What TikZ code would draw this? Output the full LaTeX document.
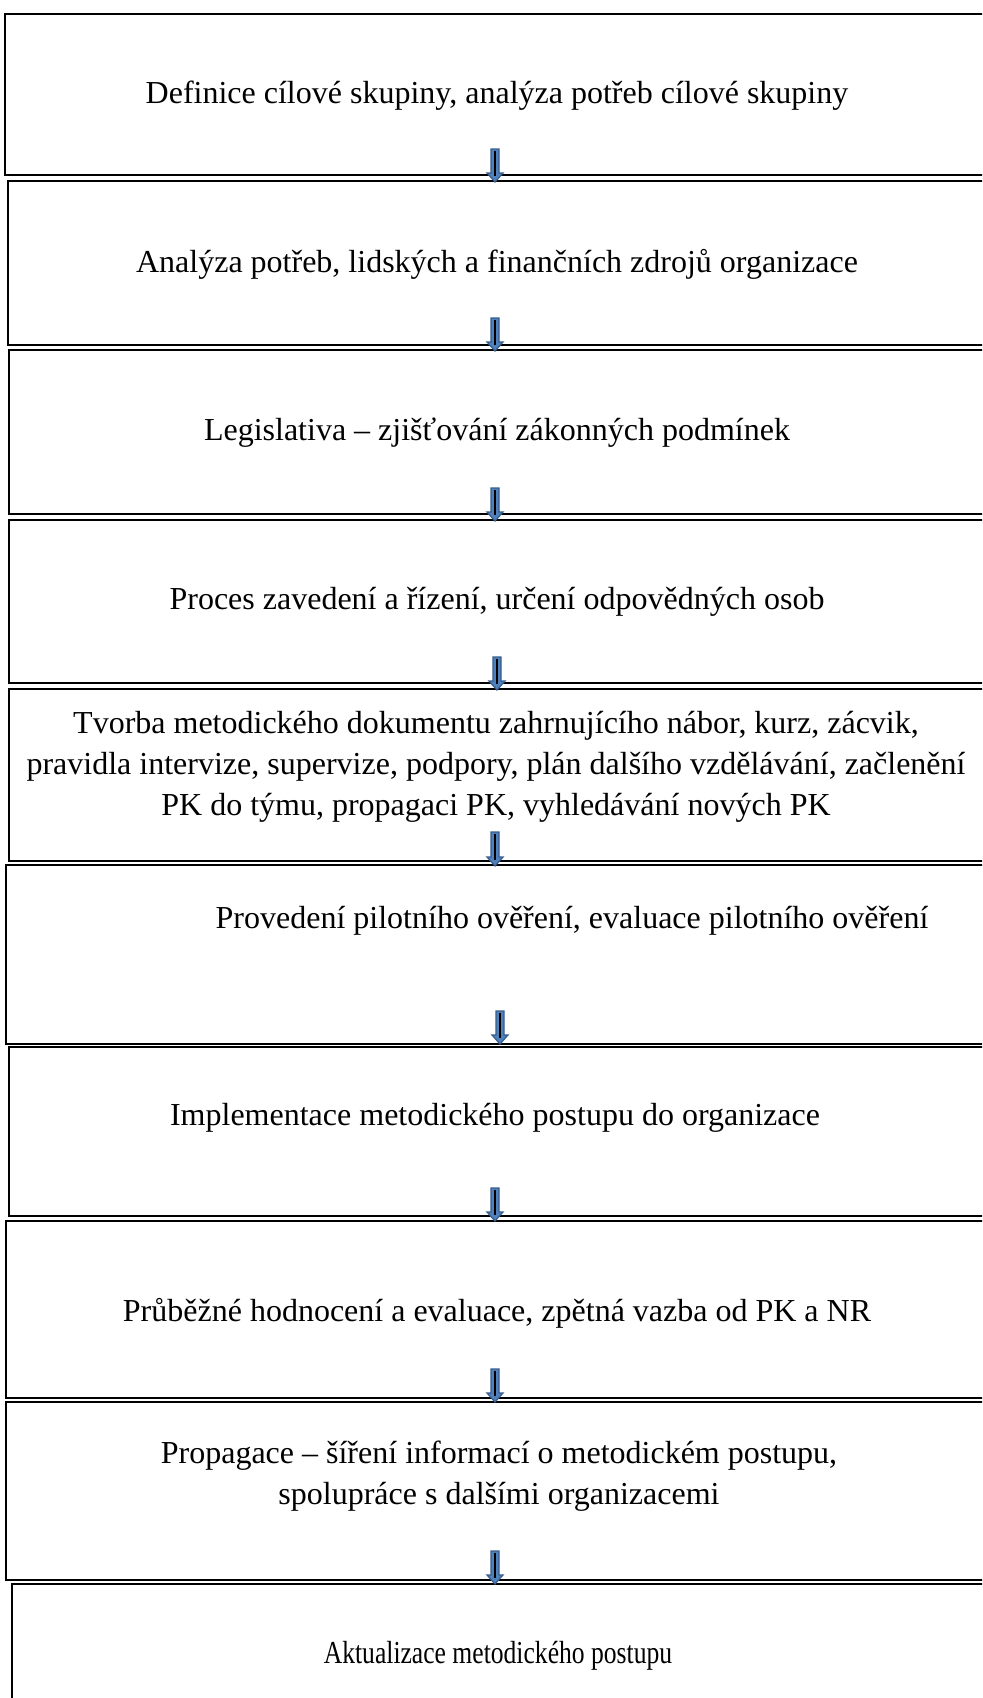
\documentclass[tikz,border=0pt]{standalone}
\usepackage{fontspec}
\setmainfont{Liberation Serif}
\usetikzlibrary{calc}
\definecolor{arrfill}{HTML}{4F81BD}
\definecolor{arredge}{HTML}{385D8A}
\tikzset{
  stepbox/.style={draw=black, line width=1pt, fill=none, anchor=north west, inner sep=0pt},
  steptext/.style={font=\fontsize{16}{20.5}\selectfont, align=center, inner sep=0pt},
  arrblue/.style={fill=arrfill, draw=arredge, line width=0.6pt, line join=miter},
  arrcore/.style={draw=black, line width=0.8pt}
}
\newcommand{\blockarr}[2]{%
  \draw[arrblue] ($(#1)+(-4,0)$) -- ($(#1)+(4,0)$) -- ($(#2)+(4,-9)$) -- ($(#2)+(8,-9)$) -- (#2) -- ($(#2)+(-8,-9)$) -- ($(#2)+(-4,-9)$) -- cycle;
  \draw[arrcore] ($(#1)+(0,1.5)$) -- ($(#2)+(0,-6)$);
}
\begin{document}
\begin{tikzpicture}[x=0.5pt,y=-0.5pt]
\useasboundingbox (0,0) rectangle (982,1698);
\clip (0,0) rectangle (982,1698);
\fill[white] (0,0) rectangle (982,1698);

% boxes
\node[stepbox, minimum width=503pt, minimum height=80.5pt] (b1) at (4,13) {};
\node[stepbox, minimum width=501.5pt, minimum height=82pt] (b2) at (7,180) {};
\node[stepbox, minimum width=501pt, minimum height=82pt] (b3) at (8,349) {};
\node[stepbox, minimum width=501pt, minimum height=81.5pt] (b4) at (8,519) {};
\node[stepbox, minimum width=501pt, minimum height=86pt] (b5) at (8,688) {};
\node[stepbox, minimum width=502.5pt, minimum height=89.5pt] (b6) at (5,864) {};
\node[stepbox, minimum width=501pt, minimum height=84.5pt] (b7) at (8,1046) {};
\node[stepbox, minimum width=502.5pt, minimum height=88.5pt] (b8) at (5,1220) {};
\node[stepbox, minimum width=502.5pt, minimum height=89pt] (b9) at (5,1401) {};
\node[stepbox, minimum width=499.5pt, minimum height=70pt] (b10) at (11,1583) {};

% texts
\node[steptext] (t1) at (497,96) {Definice cílové skupiny, analýza potřeb cílové skupiny};
\node[steptext] (t2) at (497,264) {Analýza potřeb, lidských a finančních zdrojů organizace};
\node[steptext] (t3) at (497,433) {Legislativa – zjišťování zákonných podmínek};
\node[steptext] (t4) at (497,602) {Proces zavedení a řízení, určení odpovědných osob};
\node[steptext] (t5) at (496,767) {Tvorba metodického dokumentu zahrnujícího nábor, kurz, zácvik,\\pravidla intervize, supervize, podpory, plán dalšího vzdělávání, začlenění\\PK do týmu, propagaci PK, vyhledávání nových PK};
\node[steptext] (t6) at (572,921) {Provedení pilotního ověření, evaluace pilotního ověření};
\node[steptext] (t7) at (495,1118) {Implementace metodického postupu do organizace};
\node[steptext] (t8) at (497,1313) {Průběžné hodnocení a evaluace, zpětná vazba od PK a NR};
\node[steptext] (t9) at (499,1476) {Propagace – šíření informací o metodickém postupu,\\spolupráce s dalšími organizacemi};
\node[steptext] (t10) at (498,1656) {\scalebox{0.8}[1]{Aktualizace metodického postupu}};

% arrow end points
\coordinate (a1s) at (495,149); \coordinate (a1e) at (495,182);
\coordinate (a2s) at (495,318); \coordinate (a2e) at (495,351);
\coordinate (a3s) at (495,488); \coordinate (a3e) at (495,521);
\coordinate (a4s) at (497,657); \coordinate (a4e) at (497,690);
\coordinate (a5s) at (495,832); \coordinate (a5e) at (495,866);
\coordinate (a6s) at (500,1011); \coordinate (a6e) at (500,1044);
\coordinate (a7s) at (495,1188); \coordinate (a7e) at (495,1221);
\coordinate (a8s) at (495,1369); \coordinate (a8e) at (495,1402);
\coordinate (a9s) at (495,1551); \coordinate (a9e) at (495,1584);
\blockarr{a1s}{a1e}
\blockarr{a2s}{a2e}
\blockarr{a3s}{a3e}
\blockarr{a4s}{a4e}
\blockarr{a5s}{a5e}
\blockarr{a6s}{a6e}
\blockarr{a7s}{a7e}
\blockarr{a8s}{a8e}
\blockarr{a9s}{a9e}
\end{tikzpicture}
\end{document}
